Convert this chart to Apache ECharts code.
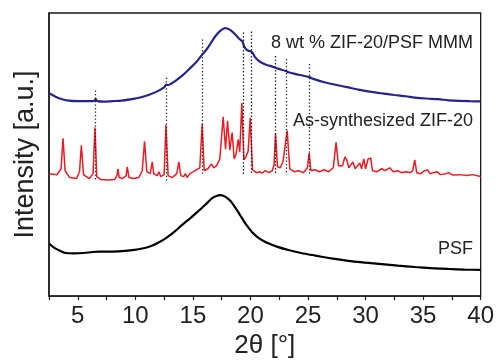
<!DOCTYPE html>
<html>
<head>
<meta charset="utf-8">
<script src="https://cdn.jsdelivr.net/npm/echarts@6/dist/echarts.min.js"></script>
<style>
  html, body { margin: 0; padding: 0; background: #fff; }
  #chart { width: 497px; height: 364px; }
</style>
</head>
<body>
<div id="chart"></div>
<script>
// 2theta / intensity pairs (a.u., traces already offset as shown)
var mmmData = [
  [2.5,207],[3.0,204],[3.5,201.5],[4.2,199.5],[5.0,199],[5.8,199],[6.4,199],[6.55,201],[6.7,199],
  [7.3,198.5],[8.0,199],[8.8,199.5],[9.7,201],[10.5,203],[11.2,205.5],[11.9,209],[12.5,213],
  [12.68,216],[12.85,215.5],[13.4,219],[14.07,225],[14.7,232],[15.3,239],[15.84,247],[16.2,252],
  [16.6,259],[17.0,266],[17.4,271],[17.8,273.5],[18.2,272],[18.6,268],[19.0,263],[19.3,260],
  [19.45,255],[19.7,251],[20.0,250],[20.15,249],[20.4,244],[20.8,239.5],[21.3,236.5],[22.12,233.5],
  [22.3,232.5],[23.13,229.5],[23.3,228.5],[24.2,226],[25.13,223.5],[25.4,222],[26.5,218],
  [27.5,215.5],[28.5,213],[29.5,210.5],[30.5,208.5],[31.4,207],[32.5,205.3],[33.5,204],
  [34.3,202.7],[35.3,201.7],[36.3,201],[37.2,199.9],[38.2,199.2],[39.1,198.9],[40,198.7]
];

var zifData = [
  [2.5,125],[3.2,124],[3.55,130],[3.72,161],[3.9,128],[4.3,121],[4.9,120],[5.15,127],[5.31,154],
  [5.5,124],[6.0,120],[6.33,125],[6.49,172],[6.65,122],[7.0,119],[7.6,118.5],[8.2,119],[8.4,123],
  [8.49,130],[8.6,121],[8.9,120],[9.2,123],[9.3,132],[9.45,121],[9.8,120],[10.3,121],[10.6,128],
  [10.8,158],[11.0,127],[11.3,125],[11.47,137],[11.6,125],[11.9,123],[12.05,127],[12.2,122],
  [12.5,124],[12.66,175],[12.85,123],[13.2,121],[13.6,125],[13.78,137],[13.95,123],[14.2,122],
  [14.36,125],[14.5,121],[14.74,125],[15.2,128],[15.6,131],[15.81,176],[15.98,128],[16.3,130],
  [16.62,135],[16.8,131],[17.05,133],[17.2,132],[17.34,140],[17.5,140],[17.63,183],[17.84,150],
  [18.01,179],[18.21,149],[18.41,167],[18.59,140],[18.75,145],[18.94,160],[19.07,147],[19.25,197],
  [19.43,139],[19.6,142],[19.8,148],[19.98,182],[20.18,129],[20.5,126],[20.8,127],[21.0,125.5],
  [21.3,128],[21.6,126],[21.9,128],[22.05,134],[22.18,166],[22.35,132],[22.6,131],[22.84,138],
  [23.0,140],[23.19,169],[23.42,130],[23.8,127],[24.2,128],[24.6,126],[24.95,131],[25.1,146],
  [25.25,128],[25.6,129],[26.0,127],[26.4,129],[26.8,127],[27.2,131],[27.44,157],[27.65,133],
  [27.8,132],[28.0,133],[28.2,142],[28.37,139],[28.55,131],[28.9,137],[29.1,130],[29.5,136],
  [29.65,130],[29.85,140],[30.0,130],[30.22,140],[30.45,141],[30.6,128],[31.0,127],[31.4,130],
  [31.7,128],[32.1,131],[32.4,127],[32.8,128],[33.1,126],[33.5,127],[33.9,126],[34.1,128],
  [34.27,139],[34.45,126],[34.8,125],[35.1,128],[35.4,128.7],[35.6,125],[36.2,127],[36.5,124],
  [37.0,125],[37.2,126],[37.6,123.5],[38.2,124],[38.8,123],[39.3,124],[40,122]
];

var psfData = [
  [2.5,53.7],[3.0,49],[3.5,46],[3.95,44],[4.6,43.7],[5.5,44],[6.3,45],[6.84,45.3],[7.7,45.3],
  [8.5,45.7],[9.73,47],[10.5,48.3],[11.2,50.3],[11.9,54],[12.6,58.7],[13.3,64.7],[14.07,72.7],
  [14.8,79.7],[15.5,87],[16.1,93.5],[16.7,100.3],[17.1,102.5],[17.4,103],[17.8,101.5],[18.27,97],
  [18.7,90],[19.14,82],[19.6,73.5],[20.15,65.3],[20.7,59.5],[21.3,55.3],[22.3,50.5],[23.3,47],
  [24.4,44],[25.65,41.3],[27,38.5],[28.5,36],[30,34.2],[31.4,32.7],[32.8,31.1],[34.3,29.7],
  [35.7,28.6],[37.2,27.7],[38.6,27.1],[40,26.7]
];

// dotted guide lines at the ZIF-20 reflections
var peakPos = [6.55, 12.68, 15.84, 19.37, 20.1, 22.12, 23.13, 25.13];
var peakTop = [210, 223, 262, 269, 270, 245, 242, 237];
var peakBottom = [118, 118, 124, 124, 124, 124, 124, 124];

var traceNames = ['8 wt % ZIF-20/PSF MMM', 'As-synthesized ZIF-20', 'PSF'];

var guideLines = [];
for (var i = 0; i < peakPos.length; i++) {
  guideLines.push([{coord: [peakPos[i], peakTop[i]]}, {coord: [peakPos[i], peakBottom[i]]}]);
}

var font = '"Liberation Sans", Arial, sans-serif';
var chart = echarts.init(document.getElementById('chart'));

var option = {
  animation: false,
  backgroundColor: '#fff',
  grid: {
    left: 49, right: 16, top: 13, bottom: 62,
    show: true, borderColor: '#1a1a1a', borderWidth: 1.3
  },
  xAxis: {
    type: 'value',
    min: 2.5, max: 40, interval: 2.5,
    name: '2θ [°]',
    nameLocation: 'middle',
    nameGap: 33,
    nameTextStyle: {fontSize: 26, color: '#222', fontFamily: font},
    axisLine: {lineStyle: {color: '#1a1a1a', width: 1.5}},
    axisTick: {show: true, length: 4, lineStyle: {color: '#1a1a1a', width: 1.2}},
    axisLabel: {
      fontSize: 24, color: '#222', fontFamily: font, margin: 8,
      formatter: function (v) { return v % 5 === 0 ? String(v) : ''; }
    },
    splitLine: {show: false}
  },
  yAxis: {
    type: 'value',
    min: 0, max: 289,
    name: 'Intensity [a.u.]',
    nameLocation: 'middle',
    nameGap: 10,
    nameTextStyle: {fontSize: 27, color: '#222', fontFamily: font},
    axisLine: {show: true, lineStyle: {color: '#1a1a1a', width: 1.5}},
    axisTick: {show: false},
    axisLabel: {show: false},
    splitLine: {show: false}
  },
  graphic: [
    {type: 'text', right: 24, top: 34, style: {text: traceNames[0], font: '18px ' + font, fill: '#222'}},
    {type: 'text', right: 24, top: 112, style: {text: traceNames[1], font: '18px ' + font, fill: '#222'}},
    {type: 'text', right: 24, top: 240, style: {text: traceNames[2], font: '18px ' + font, fill: '#222'}}
  ],
  series: [
    {
      name: traceNames[0], type: 'line', data: mmmData, showSymbol: false, smooth: 0.3,
      lineStyle: {color: '#24248c', width: 2.2}
    },
    {
      name: traceNames[1], type: 'line', data: zifData, showSymbol: false,
      lineStyle: {color: '#ec1c24', width: 1.5}
    },
    {
      name: traceNames[2], type: 'line', data: psfData, showSymbol: false, smooth: 0.3,
      lineStyle: {color: '#000', width: 2.2}
    },
    {
      name: 'guides', type: 'line', data: [], z: 5,
      markLine: {
        silent: true, symbol: 'none', label: {show: false},
        lineStyle: {color: '#222', width: 1.3, type: [1.3, 2.2]},
        data: guideLines
      }
    }
  ]
};
chart.setOption(option);
</script>
</body>
</html>
